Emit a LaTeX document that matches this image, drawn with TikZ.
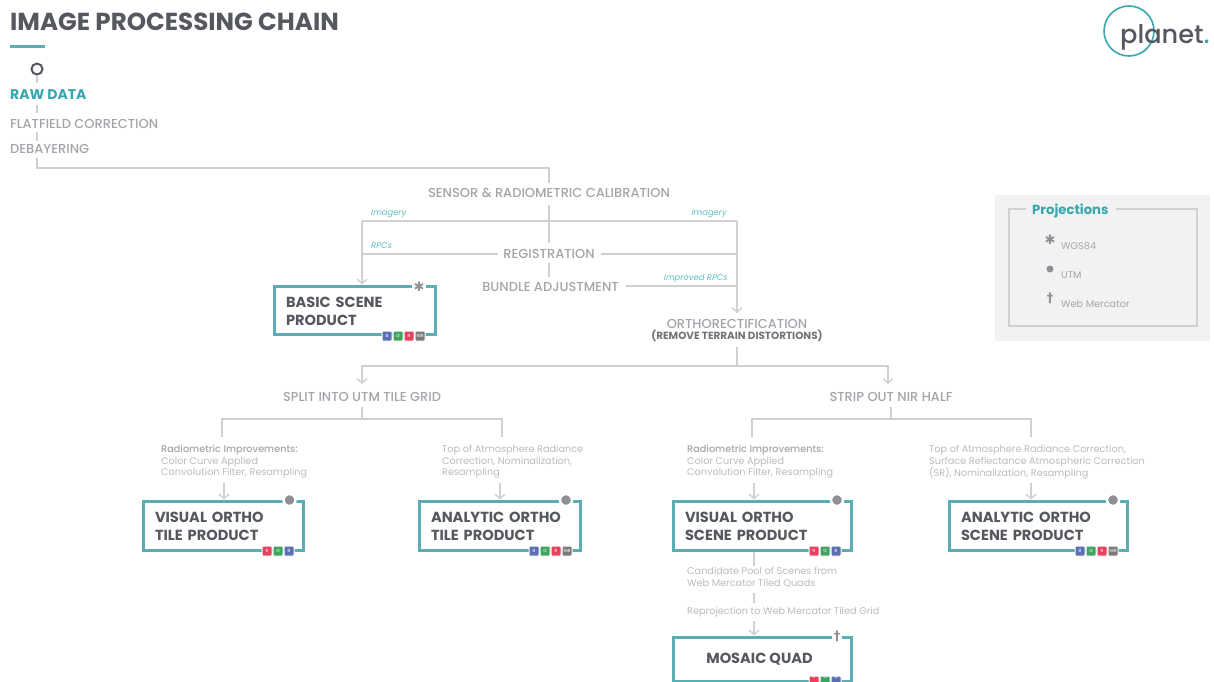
\documentclass[tikz,border=0pt]{standalone}
\usepackage{fontspec}
\setmainfont{Poppins}
\newfontfamily\medfnt{Poppins Medium}
\newfontfamily\symfnt{DejaVu Sans}
\usetikzlibrary{arrows.meta}
\definecolor{ttl}{HTML}{55585F}
\definecolor{tealA}{HTML}{35A7AD}
\definecolor{tealB}{HTML}{5AAEB3}
\definecolor{tealC}{HTML}{5CC0C6}
\definecolor{lab}{HTML}{A3A5AA}
\definecolor{sml}{HTML}{BABCBF}
\definecolor{lin}{HTML}{D0D0D0}
\definecolor{mrk}{HTML}{8E9096}
\definecolor{chB}{HTML}{5B6FB5}
\definecolor{chG}{HTML}{3FA45F}
\definecolor{chR}{HTML}{E8405F}
\definecolor{chN}{HTML}{7A7A7A}
\definecolor{legbg}{HTML}{F2F2F2}
\tikzset{
 lnk/.style={draw=lin,line width=1.8pt},
 arr/.style={lnk,-{Straight Barb[length=4.5pt,width=10pt,line width=1.4pt]}},
 lbl/.style={font=\medfnt\fontsize{13}{15}\selectfont,text=lab,inner sep=0pt},
 lbll/.style={lbl,anchor=west},
 ital/.style={font=\fontsize{8.4}{10}\selectfont\itshape,text=tealC,inner sep=0pt},
 smalltxt/.style={font=\fontsize{9.7}{11.5}\selectfont,text=sml,inner sep=0pt,anchor=north west,align=left},
 prodbox/.style={draw=tealB,line width=3pt,fill=white,inner sep=0pt,font=\fontsize{14.6}{18}\selectfont\bfseries,text=ttl,align=left},
 chipbox/.style={draw=white,line width=1pt,minimum size=10pt,inner sep=0pt,rounded corners=1pt,font=\fontsize{4.5}{5}\selectfont,text=white},
 dotmark/.style={circle,fill=mrk,draw=white,line width=2.5pt,minimum size=12pt,inner sep=0pt},
 symmark/.style={fill=white,inner sep=1.5pt,text=mrk,font=\symfnt\bfseries\fontsize{13}{13}\selectfont},
 legsym/.style={inner sep=0pt,text=mrk,font=\symfnt\bfseries\fontsize{13}{13}\selectfont},
 legtxt/.style={inner sep=0pt,anchor=west,text=lab,font=\fontsize{9.7}{11}\selectfont},
}
\newcommand{\chipnode}[5]{\node[chipbox,fill=#2] (#1) at (#3,#4) {#5};}
\newcommand{\headtxt}[1]{{\medfnt\textcolor{lab}{#1}}}
\newcommand{\lowr}{\rule{0pt}{12.5pt}}
\begin{document}
\begin{tikzpicture}[x=1pt,y=-1pt]
\useasboundingbox (0,0) rectangle (1214,681);
\fill[white] (0,0) rectangle (1214,681);
% header
\node[inner sep=0pt,anchor=west,text=ttl,font=\fontsize{24.6}{26}\selectfont\bfseries] (title) at (10,22) {IMAGE PROCESSING CHAIN};
\draw[tealB,line width=3pt] (10,46) -- (45,46);
% logo
\node[circle,draw=tealA,line width=1.6pt,minimum size=50pt,inner sep=0pt] (logoring) at (1129,31) {};
\node[inner sep=0pt,anchor=base west,text=ttl,font=\medfnt\fontsize{25.6}{27}\selectfont] (logotxt) at (1120,43) {planet\textcolor{tealA}{.}};
% legend
\fill[legbg] (995,195) rectangle (1210,341);
\draw[lin,line width=1.8pt] (1026,209) -- (1009,209) -- (1009,326) -- (1197,326) -- (1197,209) -- (1116,209);
\node[inner sep=0pt,anchor=west,text=tealA,font=\fontsize{13.2}{15}\selectfont\bfseries] (projtitle) at (1032,211) {Projections};
\node[legsym] (lgA) at (1050,240) {✱};
\node[circle,fill=mrk,minimum size=7pt,inner sep=0pt] (lgB) at (1050,269) {};
\node[legsym] (lgC) at (1050,298) {†};
\node[legtxt] (lgAt) at (1061,246) {WGS84};
\node[legtxt] (lgBt) at (1061,275) {UTM};
\node[legtxt] (lgCt) at (1061,304) {Web Mercator};
% left chain
\node[circle,draw=ttl,line width=2pt,minimum size=11pt,inner sep=0pt] (start) at (37,69) {};
\node[lbll,text=tealA,font=\fontsize{14}{16}\selectfont\bfseries] (raw) at (10,95) {RAW DATA};
\node[lbll] (flat) at (10,124) {FLATFIELD CORRECTION};
\node[lbll] (deb) at (10,149) {DEBAYERING};
\coordinate (c37a) at (37,83);
\coordinate (c37b) at (37,105);
\coordinate (c37c) at (37,113);
\coordinate (c37d) at (37,132);
\coordinate (c37e) at (37,141);
\coordinate (c37f) at (37,158);
\coordinate (cTop) at (37,168);
\coordinate (cTopR) at (549,168);
% centre
\node[lbl] (sensor) at (549,193) {SENSOR \& RADIOMETRIC CALIBRATION};
\node[lbl] (reg) at (549,254) {REGISTRATION};
\node[lbl] (bundle) at (550.5,287) {BUNDLE ADJUSTMENT};
\node[lbl,align=center] (ortho) at (737,324) {ORTHORECTIFICATION};
\node[inner sep=0pt,text=mrk!80!black,font=\fontsize{10.4}{12}\selectfont\bfseries] (orthob) at (737,336) {(REMOVE TERRAIN DISTORTIONS)};
\node[lbl] (split) at (362,397) {SPLIT INTO UTM TILE GRID};
\node[lbl] (strip) at (891,397) {STRIP OUT NIR HALF};
\node[ital,anchor=west] (imgL) at (371,214) {Imagery};
\node[ital,anchor=east] (imgR) at (727,214) {Imagery};
\node[ital,anchor=west] (rpc) at (371,246) {RPCs};
\node[ital,anchor=east] (irpc) at (728,278) {Improved RPCs};
% small texts
\node[smalltxt] (tA) at (161,445.2) {\headtxt{Radiometric Improvements:}\\Color Curve Applied\\Convolution Filter, Resampling};
\node[smalltxt] (tB) at (442,445.2) {Top of Atmosphere Radiance\\Correction, Nominalization,\\Resampling};
\node[smalltxt] (tC) at (687,445.2) {\headtxt{Radiometric Improvements:}\\Color Curve Applied\\Convolution Filter, Resampling};
\node[smalltxt] (tD) at (929,445.2) {Top of Atmosphere Radiance Correction,\\Surface Reflectance Atmospheric Correction\\(SR), Nominalization, Resampling};
\node[smalltxt] (tE) at (687,567) {Candidate Pool of Scenes from\\Web Mercator Tiled Quads};
\node[smalltxt] (tF) at (687,607) {Reprojection to Web Mercator Tiled Grid};
% product boxes
\node[prodbox,minimum width=161pt,minimum height=48pt,text width=137pt] (basic) at (354.5,310) {\lowr BASIC SCENE\\PRODUCT};
\node[prodbox,minimum width=160pt,minimum height=49pt,text width=136pt] (vt) at (223,525.5) {\lowr VISUAL ORTHO\\TILE PRODUCT};
\node[prodbox,minimum width=161pt,minimum height=49pt,text width=137pt] (atile) at (499.5,525.5) {\lowr ANALYTIC ORTHO\\TILE PRODUCT};
\node[prodbox,minimum width=178pt,minimum height=49pt,text width=154pt] (vs) at (762,525.5) {\lowr VISUAL ORTHO\\SCENE PRODUCT};
\node[prodbox,minimum width=178pt,minimum height=49pt,text width=154pt] (as) at (1038,525.5) {\lowr ANALYTIC ORTHO\\SCENE PRODUCT};
\node[prodbox,minimum width=178pt,minimum height=44pt,align=center] (mq) at (762,659) {MOSAIC QUAD\hspace*{5pt}};
% connectors
\draw[lnk] (start.south) -- (c37a);
\draw[lnk] (c37b) -- (c37c);
\draw[lnk] (c37d) -- (c37e);
\draw[lnk] (c37f) -- (cTop) -- (cTopR) -- ([yshift=5pt]sensor.north);
\coordinate (cSb) at (549,205);
\coordinate (cRt) at (549,243);
\coordinate (cJL) at (362,221);
\coordinate (cJR) at (737,221);
\draw[lnk] (cSb) -- (cRt);
\draw[lnk] (cJL) -- (cJR);
\coordinate (cRb) at (549,263);
\coordinate (cBt) at (549,277);
\draw[lnk] (cRb) -- (cBt);
\draw[arr] (cJL) -- (basic.north -| cJL);
\coordinate (cRl) at (498,254);
\coordinate (cRr) at (601,254);
\coordinate (cBr) at (626,286);
\draw[lnk] (cRl) -- (362,254);
\draw[lnk] (cRr) -- (737,254);
\draw[lnk] (cBr) -- (737,286);
\coordinate (cOa) at (737,313);
\draw[arr] (cJR) -- (cOa);
\coordinate (cOb) at (737,347);
\coordinate (cH) at (737,366);
\coordinate (cHL) at (362,366);
\coordinate (cHR) at (888,366);
\coordinate (cSp) at (362,384);
\coordinate (cSt) at (888,384);
\draw[lnk] (cOb) -- (cH);
\draw[arr] (cH) -- (cHL) -- (cSp);
\draw[arr] (cH) -- (cHR) -- (cSt);
\coordinate (cSpb) at (362,407);
\coordinate (cSpc) at (362,419);
\coordinate (cStb) at (891,407);
\coordinate (cStc) at (891,419);
\draw[lnk] (cSpb) -- (cSpc);
\draw[lnk] (cStb) -- (cStc);
\draw[lnk] (222,437) -- (222,419) -- (502,419) -- (502,437);
\draw[lnk] (752,437) -- (752,419) -- (1031,419) -- (1031,437);
\coordinate (aA) at (224,483);
\coordinate (aB) at (500,483);
\coordinate (aC) at (754,483);
\coordinate (aD) at (1031,483);
\draw[arr] (aA) -- (vt.north -| aA);
\draw[arr] (aB) -- (atile.north -| aB);
\draw[arr] (aC) -- (vs.north -| aC);
\draw[arr] (aD) -- (as.north -| aD);
\coordinate (aE) at (754,566);
\coordinate (aF) at (754,593);
\coordinate (aG) at (754,603);
\coordinate (aH) at (754,621);
\draw[lnk] (vs.south -| aE) -- (aE);
\draw[lnk] (aF) -- (aG);
\draw[arr] (aH) -- (mq.north -| aH);
% markers
\node[symmark] (mA) at (419,287) {✱};
\node[dotmark] (mB) at (289.5,500) {};
\node[dotmark] (mC) at (566,500) {};
\node[dotmark] (mD) at (837,500) {};
\node[dotmark] (mE) at (1113,500) {};
\node[symmark] (mF) at (837,636) {†};
% chips
\chipnode{c1}{chB}{387}{336}{B}\chipnode{c2}{chG}{398}{336}{G}\chipnode{c3}{chR}{409}{336}{R}\chipnode{c4}{chN}{420}{336}{NIR}
\chipnode{c5}{chR}{267}{551}{R}\chipnode{c6}{chG}{278}{551}{G}\chipnode{c7}{chB}{289}{551}{B}
\chipnode{c8}{chB}{534}{551}{B}\chipnode{c9}{chG}{545}{551}{G}\chipnode{c10}{chR}{556}{551}{R}\chipnode{c11}{chN}{567}{551}{NIR}
\chipnode{c12}{chR}{814}{551}{R}\chipnode{c13}{chG}{825}{551}{G}\chipnode{c14}{chB}{836}{551}{B}
\chipnode{c15}{chB}{1080}{551}{B}\chipnode{c16}{chG}{1091}{551}{G}\chipnode{c17}{chR}{1102}{551}{R}\chipnode{c18}{chN}{1113}{551}{NIR}
\chipnode{c19}{chR}{814}{681}{\smash{\raisebox{2.5pt}{R}}}\chipnode{c20}{chG}{825}{681}{\smash{\raisebox{2.5pt}{G}}}\chipnode{c21}{chB}{836}{681}{\smash{\raisebox{2.5pt}{B}}}
\end{tikzpicture}
\end{document}
